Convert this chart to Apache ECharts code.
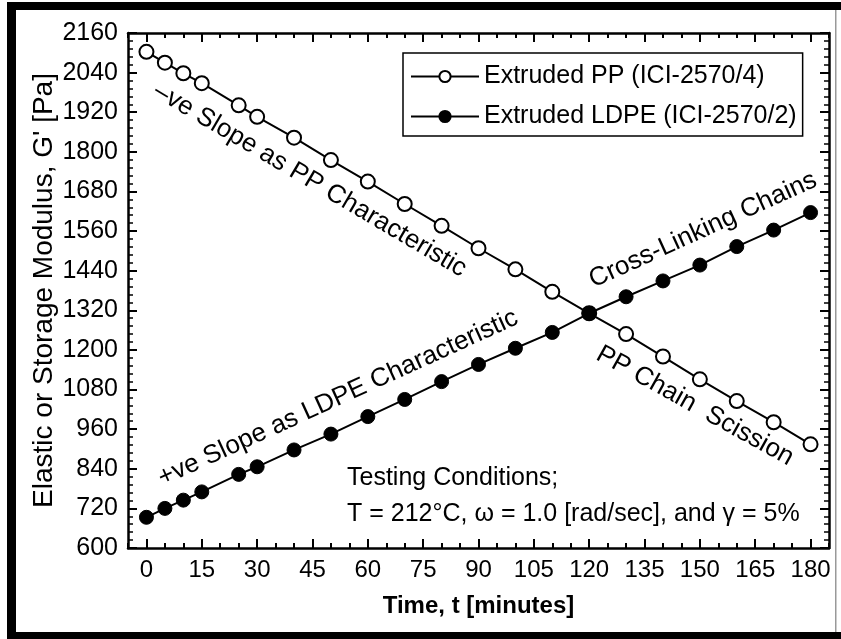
<!DOCTYPE html>
<html>
<head>
<meta charset="utf-8">
<script src="https://cdn.jsdelivr.net/npm/echarts@6/dist/echarts.min.js"></script>
<style>
html,body{margin:0;padding:0;background:#fff;}
#chart{width:841px;height:639px;}
</style>
</head>
<body>
<div id="chart"></div>
<script>
// ---- data ----
var times = [0, 5, 10, 15, 25, 30, 40, 50, 60, 70, 80, 90, 100, 110, 120, 130, 140, 150, 160, 170, 180];
var ppValues = [2103, 2070, 2038, 2008, 1941, 1906, 1843, 1775, 1710, 1642, 1576, 1508, 1444, 1376, 1311, 1248, 1180, 1111, 1045, 981, 914];
var ldpeValues = [693, 720, 745, 770, 823, 846, 897, 945, 998, 1050, 1104, 1156, 1205, 1253, 1311, 1361, 1409, 1457, 1513, 1563, 1616];
var xMajorTicks = [0, 15, 30, 45, 60, 75, 90, 105, 120, 135, 150, 165, 180];
var seriesNames = ['Extruded PP (ICI-2570/4)', 'Extruded LDPE (ICI-2570/2)'];
var xTitle = 'Time, t [minutes]';
var yTitle = "Elastic or Storage Modulus, G' [Pa]";
var noteLines = ['Testing Conditions;', 'T = 212°C, ω = 1.0 [rad/sec], and γ = 5%'];

var FONT = '"Liberation Sans", Arial, Helvetica, sans-serif';

function pairs(xs, ys) { return xs.map(function (x, i) { return [x, ys[i]]; }); }

var chart = echarts.init(document.getElementById('chart'), null, { renderer: 'canvas' });

var axisLineStyle = { color: '#000', width: 2.5 };
var tickLineStyle = { color: '#000', width: 2 };

function xAxisDef(pos, major, showLabel) {
  var a = {
    type: 'value', position: pos, min: -5, max: 185, gridIndex: 0,
    splitLine: { show: false },
    axisLine: { show: major, onZero: false, lineStyle: axisLineStyle },
    axisLabel: { show: false }
  };
  if (major) {
    a.axisTick = { show: true, inside: true, length: 9, lineStyle: tickLineStyle, customValues: xMajorTicks };
    if (showLabel) {
      a.axisLabel = { show: true, customValues: xMajorTicks, color: '#000', fontSize: 24, fontFamily: FONT, margin: 10,
        formatter: function (v) { return String(v); } };
      a.name = xTitle;
      a.nameLocation = 'middle';
      a.nameGap = 46;
      a.nameMoveOverlap = false;
      a.nameTextStyle = { color: '#000', fontSize: 24, fontWeight: 'bold', fontFamily: FONT };
    }
  } else {
    a.interval = 5;
    a.axisTick = { show: true, inside: true, length: 5, lineStyle: tickLineStyle };
  }
  return a;
}

function yAxisDef(pos, showLabel) {
  var a = {
    type: 'value', position: pos, min: 600, max: 2160, interval: 120, gridIndex: 0,
    splitLine: { show: false },
    axisLine: { show: true, onZero: false, lineStyle: axisLineStyle },
    axisTick: { show: true, inside: true, length: 9, lineStyle: tickLineStyle },
    minorTick: { show: true, splitNumber: 5, length: 5, lineStyle: { color: '#000', width: 1.5 } },
    axisLabel: { show: showLabel, color: '#000', fontSize: 25, fontFamily: FONT, margin: 10,
      formatter: function (v) { return String(v); } }
  };
  if (showLabel) {
    a.name = yTitle;
    a.nameLocation = 'middle';
    a.nameRotate = 90;
    a.nameGap = 70;
    a.nameMoveOverlap = false;
    a.nameTextStyle = { color: '#000', fontSize: 28, fontFamily: FONT };
  }
  return a;
}

function txt(text, x, y, deg, size, align) {
  return {
    type: 'text', x: x, y: y, rotation: deg * Math.PI / 180, z: 50,
    style: {
      text: text, fill: '#000', fontSize: size, fontFamily: FONT,
      align: align || 'center', verticalAlign: 'middle',
      textAlign: align || 'center', textVerticalAlign: 'middle'
    }
  };
}

var option = {
  animation: false,
  backgroundColor: '#fff',
  grid: { left: 128, right: 12, top: 33, bottom: 91, containLabel: false },
  xAxis: [
    xAxisDef('bottom', true, true),
    xAxisDef('bottom', false, false),
    xAxisDef('top', true, false),
    xAxisDef('top', false, false)
  ],
  yAxis: [
    yAxisDef('left', true),
    yAxisDef('right', false)
  ],
  legend: {
    orient: 'vertical', left: 403, top: 53,
    padding: [11, 6, 7, 7], itemGap: 15, itemWidth: 68, itemHeight: 14,
    borderColor: '#000', borderWidth: 1.5, backgroundColor: '#fff',
    textStyle: { color: '#000', fontSize: 25, fontFamily: FONT, lineHeight: 25 },
    data: seriesNames
  },
  series: [
    {
      name: seriesNames[0], type: 'line', xAxisIndex: 0, yAxisIndex: 0,
      data: pairs(times, ppValues),
      symbol: 'circle', symbolSize: 14,
      lineStyle: { color: '#000', width: 2 },
      itemStyle: { color: '#fff', borderColor: '#000', borderWidth: 2 },
      z: 3
    },
    {
      name: seriesNames[1], type: 'line', xAxisIndex: 0, yAxisIndex: 0,
      data: pairs(times, ldpeValues),
      symbol: 'circle', symbolSize: 14,
      lineStyle: { color: '#000', width: 2 },
      itemStyle: { color: '#000', borderColor: '#000', borderWidth: 1 },
      z: 4
    }
  ],
  graphic: [
    { type: 'rect', shape: { x: 7, y: 2, width: 834, height: 8 }, style: { fill: '#000' }, z: 100 },
    { type: 'rect', shape: { x: 7, y: 2, width: 9, height: 637 }, style: { fill: '#000' }, z: 100 },
    { type: 'rect', shape: { x: 7, y: 632, width: 834, height: 7 }, style: { fill: '#000' }, z: 100 },
    { type: 'rect', shape: { x: 835, y: 10, width: 1.5, height: 622 }, style: { fill: '#999' }, z: 100 },
    txt('–ve Slope as PP Characteristic', 310, 180, -30.5, 26),
    txt('+ve Slope as LDPE Characteristic', 338, 398, 24.5, 26),
    txt('Cross-Linking Chains', 703, 230, 24.5, 26),
    txt('PP Chain  Scission', 695, 406, -29, 26),
    txt(noteLines[0], 347, 478, 0, 25, 'left'),
    txt(noteLines[1], 347, 514, 0, 25, 'left')
  ]
};
chart.setOption(option);
</script>
</body>
</html>
